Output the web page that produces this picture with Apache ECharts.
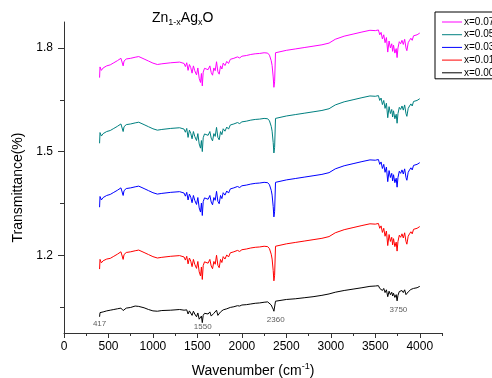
<!DOCTYPE html>
<html>
<head>
<meta charset="utf-8">
<script src="https://cdn.jsdelivr.net/npm/echarts@6/dist/echarts.min.js"></script>
<style>
  html, body { margin: 0; padding: 0; background: #fff; }
  #chart { width: 492px; height: 378px; }
</style>
</head>
<body>
<div id="chart"></div>
<script>
// Wavenumber (cm-1) sample positions shared by all spectra
const wavenumbers = [
  400,405,420,440,460,480,500,520,540,560,
  580,600,620,640,655,665,675,700,750,800,
  840,900,950,1000,1050,1100,1200,1300,1350,1365,
  1380,1395,1410,1425,1440,1455,1470,1490,1505,1520,
  1535,1545,1555,1565,1580,1600,1620,1640,1655,1670,
  1685,1700,1715,1730,1745,1760,1775,1790,1810,1830,
  1850,1870,1890,1910,1930,1950,1975,2000,2050,2100,
  2150,2200,2250,2290,2310,2330,2340,2346,2352,2360,
  2368,2378,2400,2500,2600,2700,2800,2900,2980,3050,
  3150,3250,3350,3440,3500,3520,3535,3550,3565,3580,
  3595,3610,3625,3640,3655,3670,3685,3695,3705,3720,
  3735,3745,3755,3770,3785,3800,3815,3830,3845,3855,
  3870,3885,3900,3915,3930,3950,3970,3985,4000
];
const x007 = [
  1.714,1.745,1.735,1.742,1.737,1.748,1.743,1.751,1.749,1.757,
  1.755,1.763,1.768,1.770,1.765,1.748,1.762,1.768,1.770,1.773,
  1.775,1.768,1.762,1.756,1.752,1.754,1.757,1.759,1.755,1.746,
  1.757,1.735,1.752,1.743,1.727,1.748,1.734,1.722,1.742,1.712,
  1.700,1.726,1.690,1.730,1.741,1.746,1.737,1.748,1.729,1.721,
  1.742,1.734,1.760,1.731,1.724,1.748,1.739,1.756,1.749,1.761,
  1.755,1.767,1.762,1.770,1.766,1.774,1.771,1.776,1.778,1.781,
  1.783,1.784,1.786,1.785,1.779,1.763,1.749,1.752,1.716,1.686,
  1.702,1.786,1.790,1.793,1.797,1.801,1.805,1.809,1.814,1.825,
  1.834,1.840,1.846,1.851,1.850,1.846,1.852,1.838,1.845,1.826,
  1.838,1.815,1.830,1.788,1.820,1.800,1.812,1.790,1.808,1.785,
  1.798,1.772,1.800,1.818,1.812,1.822,1.810,1.825,1.800,1.792,
  1.815,1.822,1.828,1.822,1.835,1.832,1.838,1.836,1.843
];
const x005 = [
  1.524,1.555,1.545,1.552,1.547,1.558,1.553,1.561,1.559,1.567,
  1.565,1.573,1.578,1.580,1.575,1.558,1.572,1.578,1.580,1.583,
  1.585,1.578,1.572,1.566,1.562,1.564,1.567,1.569,1.565,1.556,
  1.567,1.541,1.562,1.553,1.537,1.558,1.544,1.532,1.552,1.522,
  1.510,1.532,1.500,1.540,1.551,1.556,1.547,1.558,1.539,1.531,
  1.552,1.544,1.570,1.541,1.534,1.558,1.549,1.566,1.559,1.571,
  1.565,1.577,1.572,1.580,1.576,1.584,1.581,1.586,1.588,1.591,
  1.593,1.594,1.596,1.595,1.589,1.573,1.559,1.562,1.526,1.496,
  1.512,1.596,1.600,1.603,1.607,1.611,1.615,1.619,1.624,1.635,
  1.644,1.650,1.656,1.661,1.660,1.656,1.662,1.648,1.655,1.636,
  1.648,1.625,1.640,1.598,1.630,1.610,1.622,1.600,1.618,1.595,
  1.608,1.582,1.610,1.628,1.622,1.632,1.620,1.635,1.610,1.602,
  1.625,1.632,1.638,1.632,1.645,1.642,1.648,1.646,1.653
];
const x003 = [
  1.339,1.370,1.360,1.367,1.362,1.373,1.368,1.376,1.374,1.382,
  1.380,1.388,1.393,1.395,1.390,1.373,1.387,1.393,1.395,1.398,
  1.400,1.393,1.387,1.381,1.377,1.379,1.382,1.384,1.380,1.371,
  1.382,1.360,1.377,1.368,1.352,1.373,1.359,1.347,1.367,1.337,
  1.325,1.351,1.315,1.355,1.366,1.371,1.362,1.373,1.354,1.346,
  1.367,1.359,1.385,1.356,1.349,1.373,1.364,1.381,1.374,1.386,
  1.380,1.392,1.387,1.395,1.391,1.399,1.396,1.401,1.403,1.406,
  1.408,1.409,1.411,1.410,1.404,1.388,1.374,1.377,1.341,1.311,
  1.327,1.411,1.415,1.418,1.422,1.426,1.430,1.434,1.439,1.450,
  1.459,1.465,1.471,1.476,1.475,1.471,1.477,1.463,1.470,1.451,
  1.463,1.440,1.455,1.413,1.445,1.425,1.437,1.415,1.433,1.410,
  1.423,1.397,1.425,1.443,1.437,1.447,1.435,1.450,1.425,1.417,
  1.440,1.447,1.453,1.447,1.460,1.457,1.463,1.461,1.468
];
const x001 = [
  1.160,1.188,1.178,1.184,1.179,1.189,1.184,1.191,1.189,1.197,
  1.195,1.203,1.208,1.210,1.205,1.188,1.202,1.208,1.210,1.213,
  1.215,1.208,1.202,1.196,1.192,1.194,1.197,1.199,1.195,1.186,
  1.197,1.175,1.192,1.183,1.167,1.188,1.174,1.162,1.182,1.152,
  1.140,1.166,1.130,1.170,1.181,1.186,1.177,1.188,1.169,1.161,
  1.182,1.174,1.200,1.171,1.164,1.188,1.179,1.196,1.189,1.201,
  1.195,1.207,1.202,1.210,1.206,1.214,1.211,1.216,1.218,1.221,
  1.223,1.224,1.226,1.225,1.219,1.203,1.189,1.192,1.156,1.126,
  1.142,1.226,1.230,1.233,1.237,1.241,1.245,1.249,1.254,1.265,
  1.274,1.280,1.286,1.291,1.290,1.286,1.292,1.278,1.285,1.266,
  1.278,1.255,1.270,1.228,1.260,1.240,1.252,1.230,1.248,1.225,
  1.238,1.212,1.240,1.258,1.252,1.262,1.250,1.265,1.240,1.232,
  1.255,1.262,1.268,1.262,1.275,1.272,1.278,1.276,1.283
];
const x000 = [
  1.022,1.034,1.031,1.036,1.034,1.039,1.037,1.041,1.040,1.043,
  1.042,1.045,1.046,1.047,1.046,1.040,1.045,1.047,1.049,1.053,
  1.052,1.048,1.043,1.039,1.038,1.040,1.041,1.043,1.041,1.036,
  1.042,1.030,1.039,1.034,1.026,1.038,1.030,1.022,1.033,1.015,
  1.010,1.024,1.005,1.026,1.032,1.036,1.030,1.036,1.024,1.020,
  1.032,1.027,1.041,1.026,1.022,1.036,1.032,1.042,1.039,1.045,
  1.043,1.049,1.047,1.051,1.049,1.054,1.053,1.056,1.057,1.059,
  1.061,1.062,1.064,1.065,1.063,1.056,1.050,1.051,1.044,1.038,
  1.043,1.067,1.070,1.072,1.074,1.077,1.080,1.084,1.088,1.093,
  1.098,1.102,1.106,1.110,1.111,1.109,1.112,1.104,1.108,1.098,
  1.104,1.092,1.100,1.080,1.096,1.086,1.093,1.082,1.090,1.078,
  1.086,1.068,1.084,1.095,1.092,1.098,1.092,1.100,1.086,1.082,
  1.094,1.098,1.101,1.098,1.104,1.103,1.106,1.105,1.110
];
const seriesNames = ['x=0.07', 'x=0.05', 'x=0.03', 'x=0.01', 'x=0.00'];
const seriesValues = [x007, x005, x003, x001, x000];
const seriesColors = ['#ff00ff', '#008080', '#0000ff', '#ff0000', '#000000'];

const xMajorTicks = [0, 500, 1000, 1500, 2000, 2500, 3000, 3500, 4000];
const xMinorTicks = [250, 750, 1250, 1750, 2250, 2750, 3250, 3750, 4250];
const yMajorTicks = [1.2, 1.5, 1.8];
const yMinorTicks = [1.05, 1.35, 1.65];

// Peak annotations (label, wavenumber, transmittance position)
const annoLabels = ['417', '1550', '2360', '3750'];
const annoX = [400, 1560, 2380, 3760];
const annoY = [1.003, 0.993, 1.013, 1.041];

const FONT = '"Liberation Sans", Arial, sans-serif';
const chart = echarts.init(document.getElementById('chart'), null, { renderer: 'canvas' });

const lineSeries = seriesNames.map((name, k) => ({
  name: name,
  type: 'line',
  xAxisIndex: 0,
  yAxisIndex: 0,
  showSymbol: false,
  symbol: 'none',
  animation: false,
  lineStyle: { color: seriesColors[k], width: 1 },
  itemStyle: { color: seriesColors[k] },
  data: wavenumbers.map((w, i) => [w, seriesValues[k][i]])
}));

const annoSeries = {
  type: 'scatter',
  xAxisIndex: 0,
  yAxisIndex: 0,
  symbolSize: 0,
  silent: true,
  animation: false,
  label: {
    show: true,
    position: 'inside',
    fontFamily: FONT,
    fontSize: 8,
    color: '#333',
    formatter: p => annoLabels[p.dataIndex]
  },
  data: annoX.map((x, i) => [x, annoY[i]])
};

const axisColor = '#333';

chart.setOption({
  animation: false,
  backgroundColor: '#fff',
  textStyle: { fontFamily: FONT },
  title: {
    text: '{n|Zn}{s|1-x}{n|Ag}{s|x}{n|O}',
    left: 152,
    top: 9,
    padding: 0,
    textStyle: {
      fontWeight: 'normal',
      rich: {
        n: { fontFamily: FONT, fontSize: 14, fontWeight: 'normal', color: '#000', lineHeight: 18, verticalAlign: 'middle' },
        s: { fontFamily: FONT, fontSize: 9, fontWeight: 'normal', color: '#000', lineHeight: 9, verticalAlign: 'bottom' }
      }
    }
  },
  legend: {
    orient: 'vertical',
    left: 435,
    top: 12,
    padding: [5, 40, 1, 7],
    itemGap: 2.7,
    itemWidth: 20,
    itemHeight: 1,
    icon: 'rect',
    borderColor: '#000',
    borderWidth: 1,
    data: seriesNames,
    textStyle: { fontFamily: FONT, fontSize: 10, color: '#000', lineHeight: 9, padding: [0, 0, 0, -3] }
  },
  grid: { left: 64, right: 50, top: 22, bottom: 45, containLabel: false, outerBoundsMode: 'none' },
  xAxis: [
    {
      type: 'value',
      min: 0,
      max: 4250,
      name: '{t|Wavenumber (cm}{sup|-1}{t|)}',
      nameLocation: 'middle',
      nameGap: 29,
      nameTextStyle: {
        rich: {
          t: { fontFamily: FONT, fontSize: 14, color: '#000', lineHeight: 18, verticalAlign: 'middle' },
          sup: { fontFamily: FONT, fontSize: 9, color: '#000', lineHeight: 9, verticalAlign: 'top' }
        }
      },
      splitLine: { show: false },
      axisLine: { show: true, onZero: false, lineStyle: { color: axisColor, width: 1 } },
      axisTick: { show: true, inside: false, length: 5, customValues: xMajorTicks, lineStyle: { color: axisColor } },
      axisLabel: {
        show: true, margin: 8, customValues: xMajorTicks,
        fontFamily: FONT, fontSize: 12, color: '#000',
        formatter: v => String(v)
      }
    },
    {
      type: 'value',
      min: 0,
      max: 4250,
      position: 'bottom',
      splitLine: { show: false },
      axisLine: { show: false, onZero: false },
      axisTick: { show: true, inside: false, length: 3, customValues: xMinorTicks, lineStyle: { color: axisColor } },
      axisLabel: { show: false }
    }
  ],
  yAxis: [
    {
      type: 'value',
      min: 0.975,
      max: 1.875,
      name: 'Transmittance(%)',
      nameLocation: 'middle',
      nameGap: 38,
      nameTextStyle: { fontFamily: FONT, fontSize: 14, color: '#000', padding: [0, 20, 0, 0] },
      splitLine: { show: false },
      axisLine: { show: true, onZero: false, lineStyle: { color: axisColor, width: 1 } },
      axisTick: { show: true, inside: false, length: 6, customValues: yMajorTicks, lineStyle: { color: axisColor } },
      axisLabel: {
        show: true, margin: 11, customValues: yMajorTicks,
        fontFamily: FONT, fontSize: 12, color: '#000',
        formatter: v => Number(v).toFixed(1)
      }
    },
    {
      type: 'value',
      min: 0.975,
      max: 1.875,
      position: 'left',
      splitLine: { show: false },
      axisLine: { show: false, onZero: false },
      axisTick: { show: true, inside: false, length: 4, customValues: yMinorTicks, lineStyle: { color: axisColor } },
      axisLabel: { show: false }
    }
  ],
  series: lineSeries.concat([annoSeries])
});
</script>
</body>
</html>
